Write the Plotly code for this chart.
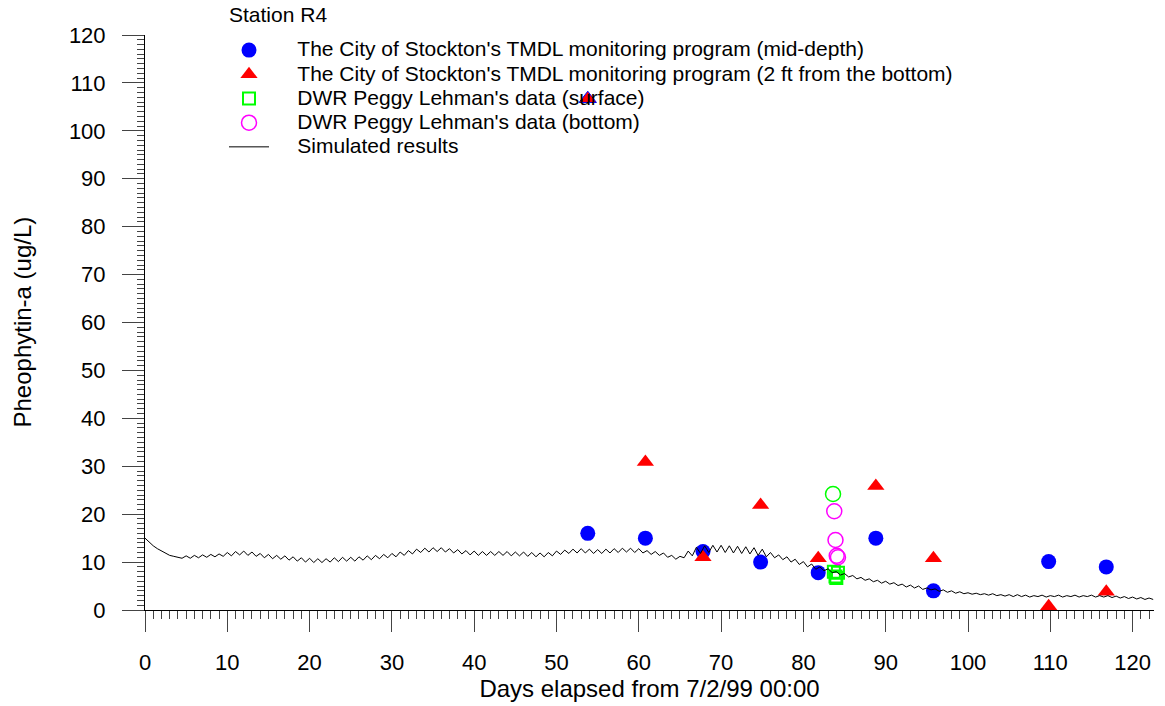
import plotly.graph_objects as go

# ---------------- data ----------------
stockton_days = [53.8, 60.8, 67.8, 74.8, 81.8, 88.8, 95.8, 109.8, 116.8]
stockton_mid = [16.0, 15.0, 12.2, 10.0, 7.8, 15.0, 4.0, 10.1, 9.0]
stockton_bottom = [106.7, 30.9, 11.0, 21.9, 10.8, 25.9, 10.8, 0.8, 3.8]

dwr_surface_days = [83.7, 84.2, 83.9, 84.0]
dwr_surface = [8.0, 7.8, 7.0, 6.7]
dwr_surface_circle_days = [83.6]
dwr_surface_circle = [24.2]

dwr_bottom_days = [83.75, 83.9, 84.05, 84.2]
dwr_bottom = [20.6, 14.6, 11.3, 11.0]

sim_start_day = 0.0
sim_step_days = 0.5
sim_values = [
    15.0, 14.1, 13.4, 12.8, 12.3, 11.8, 11.4, 11.2, 11.0, 10.8,   # 0 - 4.5
    11.3, 10.8, 11.4, 10.9, 11.5, 11.0, 11.6, 11.1, 11.7, 11.2,   # 5 - 9.5
    12.0, 11.3, 12.2, 11.5, 12.3, 11.4, 12.1, 11.2, 11.8, 10.9,   # 10 - 14.5
    11.6, 10.7, 11.4, 10.6, 11.3, 10.4, 11.1, 10.2, 10.9, 10.0,   # 15 - 19.5
    10.8, 9.9, 10.7, 9.9, 10.7, 10.0, 10.9, 10.1, 11.0, 10.2,     # 20 - 24.5
    11.0, 10.2, 11.1, 10.4, 11.3, 10.5, 11.4, 10.7, 11.6, 10.9,   # 25 - 29.5
    11.8, 11.1, 12.1, 11.4, 12.4, 11.7, 12.7, 12.0, 12.9, 12.1,   # 30 - 34.5
    13.0, 12.2, 13.0, 12.1, 12.8, 11.9, 12.6, 11.7, 12.4, 11.5,   # 35 - 39.5
    12.3, 11.4, 12.2, 11.4, 12.2, 11.4, 12.2, 11.4, 12.2, 11.3,   # 40 - 44.5
    12.1, 11.3, 12.1, 11.2, 12.0, 11.1, 11.9, 11.1, 12.0, 11.3,   # 45 - 49.5
    12.3, 11.6, 12.5, 11.8, 12.7, 11.9, 12.8, 11.9, 12.7, 11.8,   # 50 - 54.5
    12.6, 11.8, 12.7, 11.9, 12.8, 12.0, 12.9, 12.1, 12.9, 12.0,   # 55 - 59.5
    12.8, 11.9, 12.4, 11.6, 12.2, 11.4, 11.9, 11.0, 11.4, 10.6,   # 60 - 64.5
    11.2, 10.9, 12.3, 11.3, 13.1, 11.8, 13.4, 12.0, 13.5, 12.1,   # 65 - 69.5
    13.5, 12.0, 13.4, 11.9, 13.3, 11.8, 13.2, 11.7, 13.0, 11.4,   # 70 - 74.5
    12.7, 11.1, 12.0, 10.9, 11.5, 10.5, 11.1, 10.0, 10.6, 9.5,    # 75 - 79.5
    10.1, 9.0, 9.6, 8.5, 9.0, 8.2, 8.6, 7.8, 8.0, 7.3,            # 80 - 84.5
    7.6, 6.9, 7.2, 6.5, 6.8, 6.2, 6.5, 5.9, 6.2, 5.6,             # 85 - 89.5
    6.0, 5.4, 5.7, 5.1, 5.4, 4.8, 5.2, 4.6, 5.0, 4.3,             # 90 - 94.5
    4.6, 4.2, 4.4, 3.9, 4.2, 3.7, 4.0, 3.5, 3.8, 3.4,             # 95 - 99.5
    3.6, 3.3, 3.5, 3.2, 3.4, 3.1, 3.4, 3.0, 3.2, 2.9,             # 100 - 104.5
    3.2, 2.8, 3.2, 2.8, 3.1, 2.7, 3.0, 2.8, 3.1, 2.7,             # 105 - 109.5
    3.0, 2.8, 3.1, 2.7, 3.0, 2.8, 3.1, 2.7, 3.0, 2.8,             # 110 - 114.5
    3.1, 2.7, 3.0, 2.7, 3.0, 2.6, 2.9, 2.5, 2.8, 2.4,             # 115 - 119.5
    2.7, 2.3, 2.6, 2.2, 2.5, 2.2,                                 # 120 - 122.5
]
sim_days = [sim_start_day + i * sim_step_days for i in range(len(sim_values))]

x_tick_values = [0, 10, 20, 30, 40, 50, 60, 70, 80, 90, 100, 110, 120]
y_tick_values = [0, 10, 20, 30, 40, 50, 60, 70, 80, 90, 100, 110, 120]

legend_title = "Station R4"
legend_names = [
    "The City of Stockton's TMDL monitoring program (mid-depth)",
    "The City of Stockton's TMDL monitoring program (2 ft from the bottom)",
    "DWR Peggy Lehman's data (surface)",
    "DWR Peggy Lehman's data (bottom)",
    "Simulated results",
]
x_title = "Days elapsed from 7/2/99 00:00"
y_title = "Pheophytin-a (ug/L)"

FONT = "Liberation Sans, Arial, Helvetica, sans-serif"
PAD = "\u00a0" * 4


def leg(name):
    return f'<span style="font-size:21px">{PAD}{name}</span>'


fig = go.Figure()

fig.add_trace(go.Scatter(
    x=stockton_days, y=stockton_mid, mode="markers", cliponaxis=False,
    name=leg(legend_names[0]),
    marker=dict(symbol="circle", size=15, color="#0000FF", line=dict(width=0)),
))
fig.add_trace(go.Scatter(
    x=stockton_days, y=stockton_bottom, mode="markers", cliponaxis=False,
    name=leg(legend_names[1]),
    marker=dict(symbol="triangle-up", size=15, color="#FF0000", line=dict(width=0)),
))
# blue outline on the overlapping top point
fig.add_trace(go.Scatter(
    x=stockton_days[:1], y=stockton_bottom[:1], mode="markers", showlegend=False,
    marker=dict(symbol="triangle-up-open", size=15, color="#0000FF", line=dict(width=1)),
    hoverinfo="skip",
))
fig.add_trace(go.Scatter(
    x=dwr_surface_days, y=dwr_surface, mode="markers",
    name=leg(legend_names[2]),
    marker=dict(symbol="square-open", size=12, color="#00FF00", line=dict(width=2)),
))
fig.add_trace(go.Scatter(
    x=dwr_surface_circle_days, y=dwr_surface_circle, mode="markers", showlegend=False,
    marker=dict(symbol="circle-open", size=15, color="#00FF00", line=dict(width=1.5)),
))
fig.add_trace(go.Scatter(
    x=dwr_bottom_days, y=dwr_bottom, mode="markers",
    name=leg(legend_names[3]),
    marker=dict(symbol="circle-open", size=15, color="#FF00FF", line=dict(width=1.5)),
))
fig.add_trace(go.Scatter(
    x=sim_days, y=sim_values, mode="lines",
    name=leg(legend_names[4]),
    line=dict(color="#000000", width=1),
))

fig.update_layout(
    width=1165, height=706,
    margin=dict(l=145, r=11, t=35, b=96, autoexpand=False),
    paper_bgcolor="white", plot_bgcolor="white",
    font=dict(family=FONT, size=22, color="black"),
    showlegend=True,
    legend=dict(
        font=dict(size=16.3, color="black"),
        xref="container", yref="container",
        x=224 / 1165, y=1 - 33 / 706, xanchor="left", yanchor="top",
        bgcolor="rgba(0,0,0,0)", borderwidth=0,
        itemwidth=40, tracegroupgap=0,
    ),
    annotations=[
        dict(text=legend_title, xref="paper", yref="paper",
             x=(227 - 145) / 1009, y=(610 - 15) / 575, xanchor="left", yanchor="middle",
             showarrow=False, font=dict(size=21)),
        dict(text=y_title, xref="paper", yref="paper", textangle=-90,
             x=(22 - 145) / 1009, y=0.5, xanchor="center", yanchor="middle",
             showarrow=False, font=dict(size=24)),
    ],
    xaxis=dict(
        range=[0, 122.6], showgrid=False, zeroline=False,
        showline=True, linecolor="black", linewidth=1,
        tickmode="array", tickvals=x_tick_values,
        ticks="outside", ticklen=21, tickcolor="#444", tickwidth=1,
        minor=dict(dtick=1, tick0=0, ticks="outside", ticklen=8, tickcolor="#444", tickwidth=1, showgrid=False),
        tickfont=dict(size=22), ticklabelstandoff=12,
        title=dict(text=x_title, font=dict(size=24), standoff=0),
    ),
    yaxis=dict(
        range=[0, 120], showgrid=False, zeroline=False,
        showline=True, linecolor="black", linewidth=1,
        tickmode="array", tickvals=y_tick_values,
        ticks="outside", ticklen=22, tickcolor="#444", tickwidth=1,
        minor=dict(dtick=1, tick0=0, ticks="outside", ticklen=7, tickcolor="#444", tickwidth=1, showgrid=False),
        tickfont=dict(size=22), ticklabelstandoff=12,
    ),
)

fig.write_html("out.html")
